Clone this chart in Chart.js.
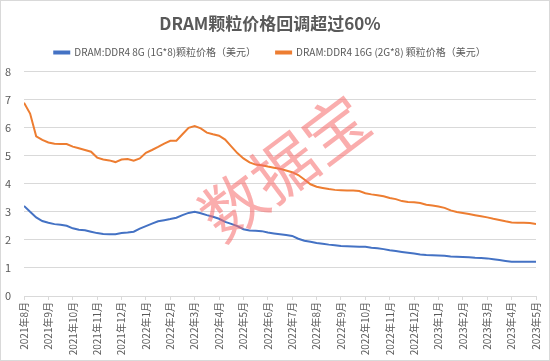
<!DOCTYPE html>
<html lang="zh">
<head>
    <meta charset="UTF-8">
    <title>DRAM颗粒价格回调超过60%</title>
    <script src="https://cdn.jsdelivr.net/npm/chart.js"></script>
    <style>
        body { margin: 0; background: #fff; }
        #box { width: 550px; height: 361px; }
    </style>
</head>
<body>
    <div id="box"><canvas id="dramChart" width="550" height="361"></canvas></div>

    <script>
        // 月份标签
        const monthLabels = ['2021年8月', '2021年9月', '2021年10月', '2021年11月', '2021年12月',
            '2022年1月', '2022年2月', '2022年3月', '2022年4月', '2022年5月', '2022年6月',
            '2022年7月', '2022年8月', '2022年9月', '2022年10月', '2022年11月', '2022年12月',
            '2023年1月', '2023年2月', '2023年3月', '2023年4月', '2023年5月'];

        // 周度数据点，每个月4个点
        const weekStep = 0.25;

        const ddr4_8g = [3.21, 3.00, 2.80, 2.67, 2.61, 2.56, 2.54, 2.50, 2.41, 2.36,
            2.34, 2.29, 2.24, 2.21, 2.20, 2.20, 2.24, 2.26, 2.29, 2.40,
            2.49, 2.58, 2.66, 2.70, 2.74, 2.79, 2.88, 2.96, 3.00, 2.95,
            2.88, 2.82, 2.75, 2.64, 2.57, 2.49, 2.38, 2.33, 2.32, 2.31,
            2.26, 2.23, 2.20, 2.17, 2.14, 2.04, 1.97, 1.93, 1.89, 1.86,
            1.83, 1.81, 1.78, 1.77, 1.76, 1.75, 1.75, 1.72, 1.70, 1.67,
            1.63, 1.60, 1.57, 1.54, 1.51, 1.48, 1.46, 1.45, 1.44, 1.43,
            1.41, 1.40, 1.39, 1.38, 1.36, 1.35, 1.34, 1.31, 1.28, 1.25,
            1.22, 1.22, 1.22, 1.22, 1.22];

        const ddr4_16g = [6.88, 6.50, 5.69, 5.56, 5.47, 5.42, 5.41, 5.41, 5.32, 5.26,
            5.20, 5.14, 4.93, 4.86, 4.83, 4.77, 4.86, 4.88, 4.82, 4.90,
            5.10, 5.20, 5.31, 5.43, 5.53, 5.53, 5.76, 5.99, 6.05, 5.97,
            5.82, 5.76, 5.71, 5.57, 5.33, 5.09, 4.90, 4.76, 4.68, 4.66,
            4.61, 4.57, 4.53, 4.47, 4.41, 4.31, 4.15, 3.98, 3.89, 3.85,
            3.81, 3.78, 3.77, 3.76, 3.76, 3.74, 3.66, 3.62, 3.59, 3.55,
            3.49, 3.45, 3.38, 3.35, 3.34, 3.31, 3.25, 3.22, 3.19, 3.14,
            3.05, 2.99, 2.96, 2.92, 2.88, 2.84, 2.80, 2.75, 2.71, 2.66,
            2.62, 2.61, 2.61, 2.60, 2.56];

        const toPoints = arr => arr.map((v, i) => ({ x: i * weekStep, y: v }));

        const textColor = '#595959';
        const gridColor = '#d9d9d9';

        // 水印、外框，图例下方多留一点空
        const extras = {
            id: 'extras',
            afterInit(chart) {
                const lg = chart.legend;
                const fit = lg.fit;
                lg.fit = function () { fit.call(this); this.height += 4; };
            },
            afterDatasetsDraw(chart) {
                const ctx = chart.ctx;
                ctx.save();
                ctx.translate(284, 167);
                ctx.rotate(-37 * Math.PI / 180);
                ctx.font = '64px "Noto Sans CJK SC"';
                ctx.fillStyle = 'rgba(245, 105, 105, 0.55)';
                ctx.textAlign = 'center';
                ctx.textBaseline = 'middle';
                ctx.fillText('数据宝', 0, 0);
                ctx.restore();
            },
            afterDraw(chart) {
                const ctx = chart.ctx;
                ctx.save();
                ctx.strokeStyle = gridColor;
                ctx.lineWidth = 1;
                ctx.strokeRect(0.5, 0.5, chart.width - 1, chart.height - 1);
                ctx.restore();
            }
        };

        const ctxDram = document.getElementById('dramChart').getContext('2d');
        const dramChart = new Chart(ctxDram, {
            type: 'line',
            data: {
                datasets: [{
                    label: 'DRAM:DDR4 8G (1G*8)颗粒价格（美元）',
                    data: toPoints(ddr4_8g),
                    borderColor: '#4472c4',
                    backgroundColor: '#4472c4',
                    borderWidth: 2,
                    pointRadius: 0,
                    tension: 0
                }, {
                    label: 'DRAM:DDR4 16G (2G*8) 颗粒价格（美元）',
                    data: toPoints(ddr4_16g),
                    borderColor: '#ed7d31',
                    backgroundColor: '#ed7d31',
                    borderWidth: 2,
                    pointRadius: 0,
                    tension: 0
                }]
            },
            options: {
                responsive: false,
                animation: false,
                layout: { padding: { left: 0, right: 10, top: 0, bottom: 0 } },
                plugins: {
                    title: {
                        display: true,
                        text: 'DRAM颗粒价格回调超过60%',
                        color: textColor,
                        font: { family: '"Noto Sans CJK SC"', size: 17, weight: 'bold' },
                        padding: { top: 13, bottom: -6 }
                    },
                    legend: {
                        labels: {
                            color: textColor,
                            font: { family: '"Noto Sans CJK SC"', size: 10 },
                            boxWidth: 15,
                            boxHeight: 2,
                            padding: 20
                        }
                    },
                    tooltip: { enabled: false }
                },
                scales: {
                    x: {
                        type: 'linear',
                        min: 0,
                        max: monthLabels.length - 1,
                        border: { color: gridColor },
                        grid: { drawOnChartArea: false, color: gridColor, tickLength: 4 },
                        ticks: {
                            stepSize: 1,
                            autoSkip: false,
                            minRotation: 90,
                            maxRotation: 90,
                            padding: 2,
                            color: textColor,
                            font: { family: '"Noto Sans CJK SC"', size: 10 },
                            callback: v => monthLabels[v]
                        },
                        afterFit: s => { s.height = 65; }
                    },
                    y: {
                        min: 0,
                        max: 8,
                        border: { display: false },
                        grid: { color: gridColor, drawTicks: false },
                        ticks: {
                            stepSize: 1,
                            padding: 13,
                            color: textColor,
                            font: { family: '"Noto Sans CJK SC"', size: 11 }
                        },
                        afterFit: s => { s.width = 24; }
                    }
                }
            },
            plugins: [extras]
        });
    </script>
</body>
</html>
